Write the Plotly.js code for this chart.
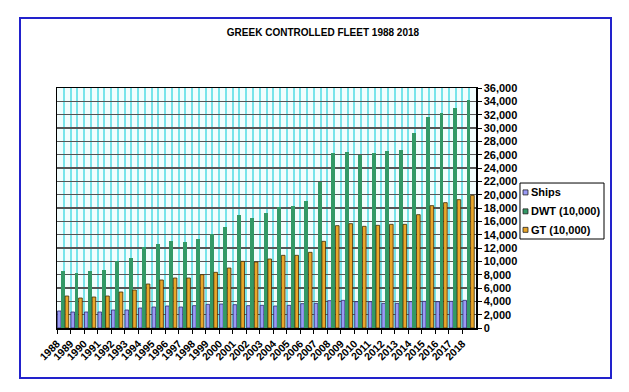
<!DOCTYPE html>
<html>
<head>
<meta charset="utf-8">
<script src="https://cdn.plot.ly/plotly-3.0.1.min.js"></script>
<style>html,body{margin:0;padding:0;background:#fff;}#chart{width:629px;height:392px;}</style>
</head>
<body>
<div id="chart"></div>
<script>
const years = [1988,1989,1990,1991,1992,1993,1994,1995,1996,1997,1998,1999,2000,2001,2002,2003,2004,2005,2006,2007,2008,2009,2010,2011,2012,2013,2014,2015,2016,2017,2018];
const ships = [2550,2400,2400,2400,2700,2700,3000,3150,3300,3150,3350,3550,3600,3500,3350,3400,3300,3400,3650,3700,4100,4150,3950,3950,3700,3700,3950,4000,3950,4000,4150];
const dwt = [8600,8300,8600,8750,10050,10550,12200,12650,13100,12900,13400,14100,15200,17000,16500,17250,18100,18300,19050,21900,26200,26400,25950,26250,26550,26700,29300,31700,32300,33050,34200];
const gt = [4800,4500,4650,4800,5400,5700,6600,7200,7500,7500,8000,8350,9000,10000,9900,10350,10900,10900,11350,13000,15350,15650,15250,15400,15550,15550,17000,18350,18800,19250,19900];
const seriesNames = ['Ships', 'DWT (10,000)', 'GT (10,000)'];
const titleText = 'GREEK CONTROLLED FLEET 1988 2018';

const FONT = '"Liberation Sans", Arial, sans-serif';
const colors = ['#9a9af5', '#339966', '#e9a62a'];
const lines = ['#2a2a6a', '#2d8a5a', '#3a2a00'];
const offsets = [-0.47, -0.2, 0.1];
const widths = [0.27, 0.29, 0.27];
const values = [ships, dwt, gt];

const traces = values.map((v, i) => ({
  type: 'bar',
  x: years,
  y: v,
  name: seriesNames[i],
  offset: offsets[i],
  width: widths[i],
  marker: {color: colors[i], line: {color: lines[i], width: i === 1 ? 0 : 0.8}},
  showlegend: false,
  hoverinfo: 'x+y'
}));

// legend drawn with layout shapes & annotations (paper coords)
const legendRows = [0.565, 0.486, 0.409];
const shapes = [
  {type: 'rect', xref: 'paper', yref: 'paper', x0: -0.0883, x1: 1.3222, y0: -0.2083, y1: 1.2917,
   line: {color: '#2222cc', width: 2}, fillcolor: 'rgba(0,0,0,0)', layer: 'below'},
  {type: 'rect', xref: 'paper', yref: 'paper', x0: 1.105, x1: 1.3055, y0: 0.3708, y1: 0.6041,
   line: {color: '#000', width: 1}, fillcolor: '#fff'}
];
const annotations = [];
seriesNames.forEach((n, i) => {
  const yc = legendRows[i];
  shapes.push({type: 'rect', xref: 'paper', yref: 'paper', x0: 1.1122, x1: 1.1241,
    y0: yc - 0.0104, y1: yc + 0.0104, fillcolor: colors[i], line: {color: '#222', width: 0.8}});
  annotations.push({xref: 'paper', yref: 'paper', x: 1.1265, y: yc, xanchor: 'left', yanchor: 'middle',
    text: '<b>' + n + '</b>', showarrow: false, font: {family: FONT, size: 11, color: '#000'}});
});

const layout = {
  width: 629, height: 392,
  margin: {l: 57, r: 153, t: 88, b: 64},
  paper_bgcolor: '#ffffff',
  plot_bgcolor: '#f2fdfd',
  bargap: 0,
  barmode: 'overlay',
  title: {text: '<b>' + titleText + '</b>', font: {family: FONT, size: 10, color: '#000'},
          x: 0.5135, xref: 'container', xanchor: 'center', y: 0.916, yref: 'container', yanchor: 'middle'},
  xaxis: {
    range: [years[0] - 0.5, years[years.length - 1] + 0.5],
    tickmode: 'array',
    tickvals: years.map(y => y - 0.5),
    ticktext: years.map(y => '<b>' + y + '</b>'),
    tickangle: -45,
    tickfont: {family: FONT, size: 10.5, color: '#000'},
    ticks: 'outside', ticklen: 4, tickcolor: '#000',
    showgrid: true, gridcolor: '#78e4ea', gridwidth: 2,
    minor: {tickmode: 'array', tickvals: years, showgrid: true, gridcolor: '#78e4ea', gridwidth: 2, ticks: ''},
    showline: true, linecolor: '#000', linewidth: 1.5, mirror: true,
    zeroline: false, fixedrange: true
  },
  yaxis: {
    side: 'right',
    range: [0, 36000],
    dtick: 2000,
    tickformat: ',d',
    tickfont: {family: FONT, size: 11, color: '#000', weight: 'bold'},
    ticks: 'outside', ticklen: 4, tickcolor: '#000',
    showgrid: true, gridcolor: '#555555', gridwidth: 1.6,
    showline: true, linecolor: '#000', linewidth: 1.5, mirror: true,
    zeroline: false, fixedrange: true
  },
  shapes: shapes,
  annotations: annotations
};

Plotly.newPlot('chart', traces, layout, {displayModeBar: false, staticPlot: true});
</script>
</body>
</html>
